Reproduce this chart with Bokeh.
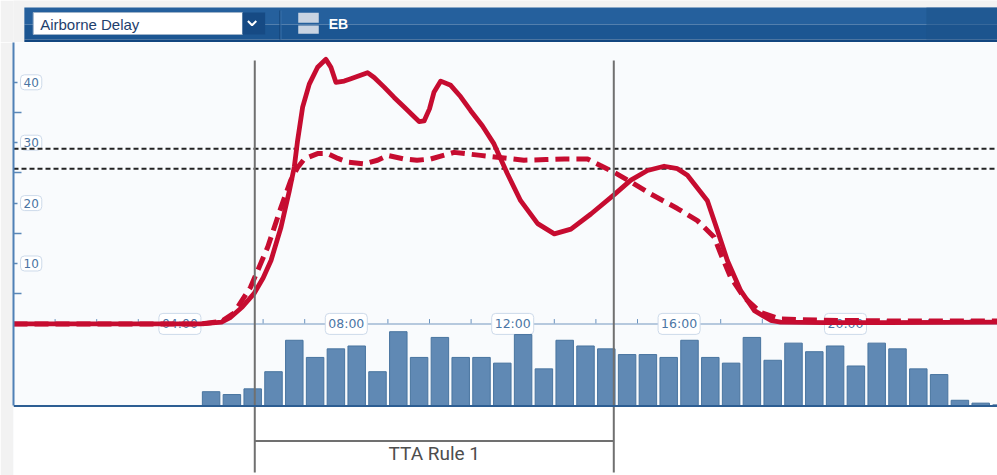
from bokeh.plotting import figure
from bokeh.models import Range1d, Span, Label, BoxAnnotation, FixedTicker, LinearAxis
from bokeh.layouts import column
from bokeh.embed import file_html
from bokeh.resources import INLINE
from bokeh.core.properties import value

# ---------------- data ----------------
# solid line: airborne delay (minutes) vs hour of day
solid_hours = [0.0, 4.5, 5.0, 5.22, 5.5, 5.78, 6.0, 6.19, 6.43, 6.63,
               6.75, 6.83, 6.95, 7.11, 7.31, 7.51, 7.63, 7.75, 7.95, 8.11,
               8.31, 8.51, 8.67, 8.91, 9.15, 9.39, 9.6, 9.75, 9.87, 10.0,
               10.11, 10.27, 10.51, 10.75, 10.99, 11.27, 11.55, 11.87, 12.19, 12.6,
               13.0, 13.4, 13.88, 14.44, 14.84, 15.24, 15.64, 15.96, 16.2, 16.36,
               16.68, 16.92, 17.16, 17.48, 17.81, 18.2, 18.44, 19.5, 21.0, 23.7]
solid_delay = [0.0, 0.0, 0.3, 1.1, 2.8, 5.0, 7.6, 10.5, 16.0, 22.0,
               26.0, 30.4, 35.9, 39.7, 42.5, 43.8, 42.5, 40.0, 40.2, 40.6,
               41.1, 41.6, 40.8, 39.2, 37.5, 35.9, 34.5, 33.5, 33.6, 35.6,
               38.4, 40.2, 39.5, 37.6, 35.3, 32.8, 29.8, 24.9, 20.4, 16.6,
               14.9, 15.7, 18.2, 21.4, 23.8, 25.4, 26.1, 25.7, 24.6, 23.2,
               20.4, 15.5, 10.5, 5.5, 2.2, 0.6, 0.3, 0.2, 0.2, 0.3]

# dashed line: second delay series
dashed_hours = [0.0, 4.5, 5.0, 5.3, 5.7, 6.11, 6.43, 6.66, 6.83, 6.99,
                7.31, 7.55, 7.8, 8.03, 8.43, 8.75, 8.99, 9.39, 9.7, 10.03,
                10.59, 11.23, 11.63, 12.27, 12.8, 13.24, 13.8, 14.12, 14.44, 14.84,
                15.32, 15.96, 16.44, 16.84, 17.0, 17.24, 17.56, 17.96, 18.44, 19.5,
                21.0, 23.7]
dashed_delay = [0.0, 0.0, 0.4, 1.8, 6.1, 12.7, 19.3, 23.7, 25.9, 27.3,
                28.2, 28.2, 27.4, 26.8, 26.5, 27.1, 27.9, 27.3, 27.1, 27.3,
                28.4, 27.9, 27.6, 27.1, 27.2, 27.3, 27.3, 26.2, 25.1, 23.5,
                21.5, 19.1, 17.1, 14.4, 11.6, 7.7, 4.4, 1.9, 0.8, 0.6,
                0.5, 0.5]

# half-hour demand bars (bin start hour, count)
bin_start = [4.5, 5.0, 5.5, 6.0, 6.5, 7.0, 7.5, 8.0, 8.5, 9.0,
             9.5, 10.0, 10.5, 11.0, 11.5, 12.0, 12.5, 13.0, 13.5, 14.0,
             14.5, 15.0, 15.5, 16.0, 16.5, 17.0, 17.5, 18.0, 18.5, 19.0,
             19.5, 20.0, 20.5, 21.0, 21.5, 22.0, 22.5, 23.0, 23.5]
bin_count = [5, 4, 6, 12, 23, 17, 20, 21, 12, 26,
             17, 24, 17, 17, 15, 25, 13, 23, 21, 20,
             18, 18, 17, 23, 17, 15, 24, 16, 22, 19,
             21, 14, 22, 20, 13, 11, 2, 1, 0.4]

threshold_levels = [29.0, 25.7]
tta_window = [5.8, 14.43]
tta_label = "TTA Rule 1"

y_ticks = [10, 20, 30, 40]
y_minor_ticks = [5, 15, 25, 35]
x_label_hours = [4, 8, 12, 16, 20]
x_labels = ["04:00", "08:00", "12:00", "16:00", "20:00"]
hour_ticks = list(range(1, 24))

# ---------------- styles ----------------
W = 997
HDR_H = 42
MAIN_H = 433
RED = "#c60c30"
BLUE_AX = "#4f80b6"

# ---------------- header ----------------
hdr = figure(width=W, height=HDR_H, x_range=Range1d(0, W), y_range=Range1d(HDR_H, 0),
             output_backend="svg", toolbar_location=None, min_border=0,
             x_axis_location=None, y_axis_location=None,
             background_fill_color="#f2f2f2", border_fill_color="#f2f2f2")
hdr.outline_line_color = None
hdr.grid.visible = False
hdr.quad(left=[11], right=[W], top=[7], bottom=[24], fill_color="#25609d", line_color=None)
hdr.quad(left=[11], right=[W], top=[24], bottom=[39], fill_color="#1c5692", line_color=None)
hdr.quad(left=[11], right=[W], top=[39], bottom=[42], fill_color="#124680", line_color=None)
hdr.quad(left=[925], right=[W], top=[7], bottom=[39], fill_color="#1b528a", line_color=None, fill_alpha=0.5)
# dropdown
hdr.quad(left=[20], right=[232], top=[12], bottom=[34], fill_color="#ffffff", line_color="#9fb3c9", line_width=1)
hdr.quad(left=[232], right=[255], top=[12], bottom=[34], fill_color="#164a84", line_color=None)
hdr.line(x=[237.5, 241.7, 246], y=[20.5, 24.8, 20.5], line_color="white", line_width=2)
hdr.text(x=[27], y=[24], text=["Airborne Delay"], text_font=value("Liberation Sans"),
         text_font_size="15px", text_color="#1e3e6c", text_baseline="middle", text_align="left")
# separator
hdr.segment(x0=[270], y0=[10], x1=[270], y1=[39], line_color="#123f70", line_width=1)
hdr.segment(x0=[271], y0=[10], x1=[271], y1=[39], line_color="#3a72ad", line_width=1)
# icon
hdr.quad(left=[288.5], right=[309.3], top=[12.3], bottom=[22.3], fill_color="#c9d4e2", line_color=None)
hdr.quad(left=[288.5], right=[309.3], top=[25], bottom=[33.3], fill_color="#c9d4e2", line_color=None)
hdr.text(x=[319.3], y=[23.5], text=["EB"], text_font=value("Liberation Sans"),
         text_font_size="14px", text_font_style="bold", text_color="white",
         text_baseline="middle", text_align="left")

# ---------------- main chart ----------------
PX_PER_HOUR = 41.6
LEFT = 13
frame_w = W - LEFT
p = figure(width=W, height=MAIN_H,
           x_range=Range1d(0, frame_w / PX_PER_HOUR),
           y_range=Range1d(-25.1, 46.59),
           output_backend="svg", toolbar_location=None,
           min_border_left=LEFT, min_border_right=0, min_border_top=0, min_border_bottom=0,
           x_axis_location=None, y_axis_location=None,
           background_fill_color="#f9fbfd", border_fill_color="#f2f2f2")
p.outline_line_color = None
p.grid.visible = False
p.xgrid.visible = False
p.ygrid.visible = False
p.extra_y_ranges = {"bars": Range1d(-24.33, 127.23)}

yaxis = LinearAxis(ticker=FixedTicker(ticks=y_ticks, minor_ticks=y_minor_ticks),
                   bounds=(-13.59, 46.59))
yaxis.major_label_overrides = {t: "" for t in y_ticks}
yaxis.major_label_standoff = 0
yaxis.axis_line_color = BLUE_AX
yaxis.axis_line_width = 2
yaxis.major_tick_in = 4
yaxis.major_tick_out = 0
yaxis.minor_tick_in = 8
yaxis.minor_tick_out = 0
yaxis.major_tick_line_color = "#5a87b8"
yaxis.minor_tick_line_color = "#5a87b8"
yaxis.major_tick_line_width = 1.5
yaxis.minor_tick_line_width = 1.5
p.add_layout(yaxis, "left")

# white area below the bar baseline
p.add_layout(BoxAnnotation(top=0, y_range_name="bars", fill_color="white", fill_alpha=1.0,
                           line_color=None, level="underlay"))

# inner time axis at delay 0
p.add_layout(Span(location=0, dimension="width", line_color="#9fb8d3", line_width=1.5, level="underlay"))
tick_r = p.segment(x0=hour_ticks, y0=[0] * len(hour_ticks), x1=hour_ticks,
                   y1=[0.8] * len(hour_ticks), line_color="#6a93bf", line_width=1)
tick_r.level = "underlay"

lp = Label.properties()
box_kw = dict(background_fill_color="white", background_fill_alpha=1.0,
              border_line_color="#cddaea", border_line_width=1)
if "padding" in lp:
    box_kw["padding"] = 3
if "border_radius" in lp:
    box_kw["border_radius"] = 4

for h, t in zip(x_label_hours, x_labels):
    p.add_layout(Label(x=h, y=0, text=t, text_align="center", text_baseline="middle",
                       text_font="DejaVu Sans", text_font_size="12.5px", text_color="#4b76a5",
                       level="underlay", **box_kw))
for v in y_ticks:
    p.add_layout(Label(x=0, y=v, x_offset=7, text=str(v), text_align="left", text_baseline="middle",
                       text_font="DejaVu Sans", text_font_size="12px", text_color="#4b74a2",
                       level="underlay", **box_kw))

for lvl in threshold_levels:
    p.add_layout(Span(location=lvl, dimension="width", line_color="#222222", line_width=2,
                      line_dash="5 3", level="underlay"))

# bars
bar_centers = [b + 0.25 for b in bin_start]
p.vbar(x=bar_centers, top=bin_count, bottom=0, width=0.42, y_range_name="bars",
       fill_color="#6089b4", line_color="#48749f", line_width=1)
p.add_layout(Span(location=0, dimension="width", y_range_name="bars",
                  line_color="#2d5e93", line_width=2))

# lines
p.line(x=dashed_hours, y=dashed_delay, line_color=RED, line_width=5, line_dash="14 7",
       line_join="round")
p.line(x=solid_hours, y=solid_delay, line_color=RED, line_width=4.8, line_join="round",
       line_cap="round")

# TTA window
p.segment(x0=tta_window, y0=[43.6, 43.6], x1=tta_window, y1=[-24.6, -24.6],
          line_color="#707070", line_width=2)
p.segment(x0=[tta_window[0]], y0=[-19.4], x1=[tta_window[1]], y1=[-19.4],
          line_color="#707070", line_width=2)
p.add_layout(Label(x=(tta_window[0] + tta_window[1]) / 2, y=-21.5, text=tta_label,
                   text_align="center", text_baseline="middle", text_font="Roboto",
                   text_font_size="19px", text_color="#4d4d4d"))

layout = column(hdr, p, spacing=0)
open("out.html", "w").write(file_html(layout, INLINE))
